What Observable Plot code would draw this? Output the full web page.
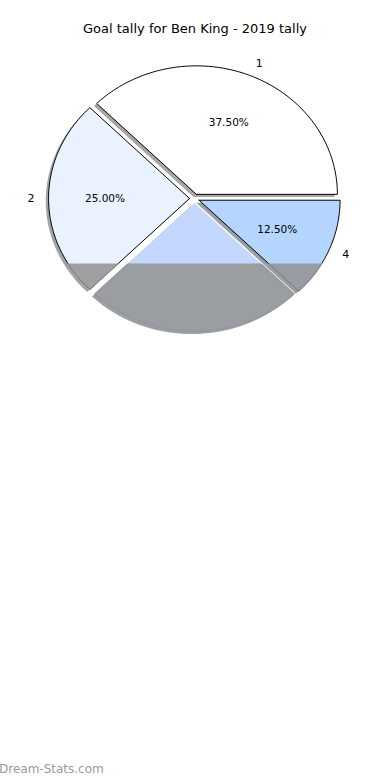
<!DOCTYPE html>
<html><head><meta charset="utf-8">
<script src="https://cdn.jsdelivr.net/npm/d3@7"></script>
<script src="https://cdn.jsdelivr.net/npm/@observablehq/plot@0.6"></script>
<style>
body{margin:0;background:#fff;font-family:"DejaVu Sans",sans-serif}
#wrap{position:relative;width:390px;height:780px;overflow:hidden;background:#fff}
#chart{position:absolute;left:0;top:0}
#title{position:absolute;top:21px;left:0;width:390px;text-align:center;font-size:13px;color:#000}
#mark{position:absolute;left:-1px;top:762px;font-size:12px;color:#9a9a9a}
</style></head><body>
<div id="wrap"><div id="chart"></div><div id="title">Goal tally for Ben King - 2019 tally</div><div id="mark">Dream-Stats.com</div></div>
<script>
const labels = ["1", "2", "3", "4"];
const values = [3, 2, 2, 1];
const colors = ["#ffffff", "#ebf2ff", "#c4d7ff", "#b3d5ff"];
const edges = ["#000", "#000", "none", "#000"];
const shownText = [true, true, false, true];
const explode = [0.035, 0.035, 0.035, 0.035];

const total = d3.sum(values);
let acc = 0;
const slices = values.map((v, i) => {
  const a0 = acc / total * 2 * Math.PI;
  acc += v;
  const a1 = acc / total * 2 * Math.PI;
  const mid = (a0 + a1) / 2;
  const ox = explode[i] * Math.cos(mid), oy = explode[i] * Math.sin(mid);
  const n = Math.max(8, Math.ceil((a1 - a0) / (Math.PI / 180)));
  const pts = [{x: ox, y: oy}];
  for (let k = 0; k <= n; k++) {
    const a = a0 + (a1 - a0) * k / n;
    pts.push({x: ox + Math.cos(a), y: oy + Math.sin(a)});
  }
  pts.push({x: ox, y: oy});
  return {i, label: labels[i], value: v, pct: (v / total * 100).toFixed(2) + "%", mid, ox, oy, pts, color: colors[i]};
});

function shadowColor(c) {
  const r = d3.rgb(c);
  return d3.rgb(r.r * 0.3, r.g * 0.3, r.b * 0.3).formatHex();
}

const marks = [];
slices.forEach(s => {
  marks.push(Plot.line(s.pts.map(p => ({x: p.x - 0.02, y: p.y - 0.02})), {x: "x", y: "y", fill: shadowColor(s.color), fillOpacity: 0.5, stroke: "none"}));
});
slices.forEach(s => {
  marks.push(Plot.line(s.pts, {x: "x", y: "y", fill: s.color, stroke: edges[s.i], strokeWidth: 1, strokeLinejoin: "miter"}));
});
slices.forEach(s => {
  marks.push(Plot.line(s.pts, {x: "x", y: "y", fill: "#939393", fillOpacity: 0.86, stroke: "#939393", strokeOpacity: 0.86, strokeWidth: 1.2, ariaDescription: "overlay"}));
});

const outer = slices.filter(s => shownText[s.i]).map(s => ({
  x: s.ox + 1.1 * Math.cos(s.mid), y: s.oy + 1.1 * Math.sin(s.mid), text: s.label,
  anchor: Math.cos(s.mid) > 0 ? "start" : "end"
}));
const inner = slices.filter(s => shownText[s.i]).map(s => ({
  x: s.ox + 0.6 * Math.cos(s.mid), y: s.oy + 0.6 * Math.sin(s.mid), text: s.pct
}));
marks.push(Plot.text(outer.filter(d => d.anchor === "start"), {x: "x", y: "y", text: "text", textAnchor: "start", fontSize: 11, fill: "#000"}));
marks.push(Plot.text(outer.filter(d => d.anchor === "end"), {x: "x", y: "y", text: "text", textAnchor: "end", fontSize: 11, fill: "#000"}));
marks.push(Plot.text(inner, {x: "x", y: "y", text: "text", fontSize: 10.5, fill: "#000"}));

const plot = Plot.plot({
  width: 390, height: 780,
  margin: 0,
  style: {fontFamily: "DejaVu Sans, sans-serif", background: "transparent", overflow: "visible"},
  x: {domain: [-1, 1], range: [53, 335], axis: null},
  y: {domain: [-1, 1], range: [326.5, 69.5], axis: null},
  marks
});

const svg = d3.select(plot);
const defs = svg.insert("defs", ":first-child");
defs.append("clipPath").attr("id", "lowclip").append("rect").attr("x", 0).attr("y", 263).attr("width", 390).attr("height", 517);
svg.selectAll("g[aria-description='overlay']").attr("clip-path", "url(#lowclip)");
document.getElementById("chart").appendChild(plot);
</script>
</body></html>
